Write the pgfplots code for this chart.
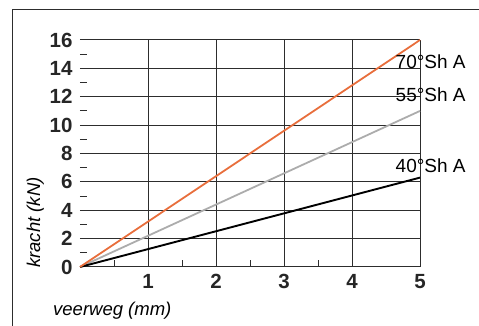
\documentclass[border=0pt]{standalone}
\usepackage{fontspec}
\setmainfont{Liberation Sans}
\usepackage{pgfplots}
\pgfplotsset{compat=1.18}
\definecolor{orng}{RGB}{232,110,60}
\definecolor{gry}{RGB}{172,172,172}
\definecolor{gridc}{RGB}{45,45,45}
\begin{document}
\begin{tikzpicture}
\begin{axis}[
  at={(80pt,59pt)}, anchor=south west,
  scale only axis, width=340pt, height=227pt,
  xmin=0, xmax=5, ymin=0, ymax=16,
  axis line style={draw=none},
  xtick={1,2,3,4,5}, ytick={0,2,...,16},
  minor xtick={0.5,1.5,2.5,3.5}, minor ytick={1,3,...,15},
  xtick pos=bottom, ytick pos=left, tick align=inside,
  major tick length=0pt, minor tick length=7pt,
  minor tick style={gridc, line width=1pt},
  grid=major, major grid style={gridc, line width=1pt},
  /pgf/number format/assume math mode=true,
  ticklabel style={font=\bfseries\fontsize{20.5}{20.5}\selectfont, text=black!85},
  yticklabel style={xshift=-4pt},
  xticklabel style={yshift=-4pt},
  clip=false,
]
\addplot[gry, line width=1.8pt] coordinates {(0,0) (5,11)};
\addplot[black, line width=1.9pt] coordinates {(0,0) (5,6.3)};
\addplot[orng, line width=1.8pt] coordinates {(0,0) (5,16)};
\node[anchor=base west, font=\fontsize{19}{19}\selectfont, inner sep=0pt] at (axis cs:4.64,14.02) {70°Sh A};
\node[anchor=base west, font=\fontsize{19}{19}\selectfont, inner sep=0pt] at (axis cs:4.64,11.63) {55°Sh A};
\node[anchor=base west, font=\fontsize{19}{19}\selectfont, inner sep=0pt] at (axis cs:4.64,6.69) {40°Sh A};
\end{axis}
\node[rotate=90, anchor=base west, inner sep=0pt, font=\itshape\fontsize{18.5}{18.5}\selectfont] at (40pt,58pt) {kracht (kN)};
\node[anchor=base west, inner sep=0pt, font=\itshape\fontsize{18.5}{18.5}\selectfont] at (53pt,10pt) {veerweg (mm)};
\draw[gridc, line width=1pt] (12pt,0pt) -- (12pt,316pt) -- (479pt,316pt);
\pgfresetboundingbox
\path[use as bounding box] (0pt,0pt) rectangle (479pt,326pt);
\end{tikzpicture}
\end{document}
